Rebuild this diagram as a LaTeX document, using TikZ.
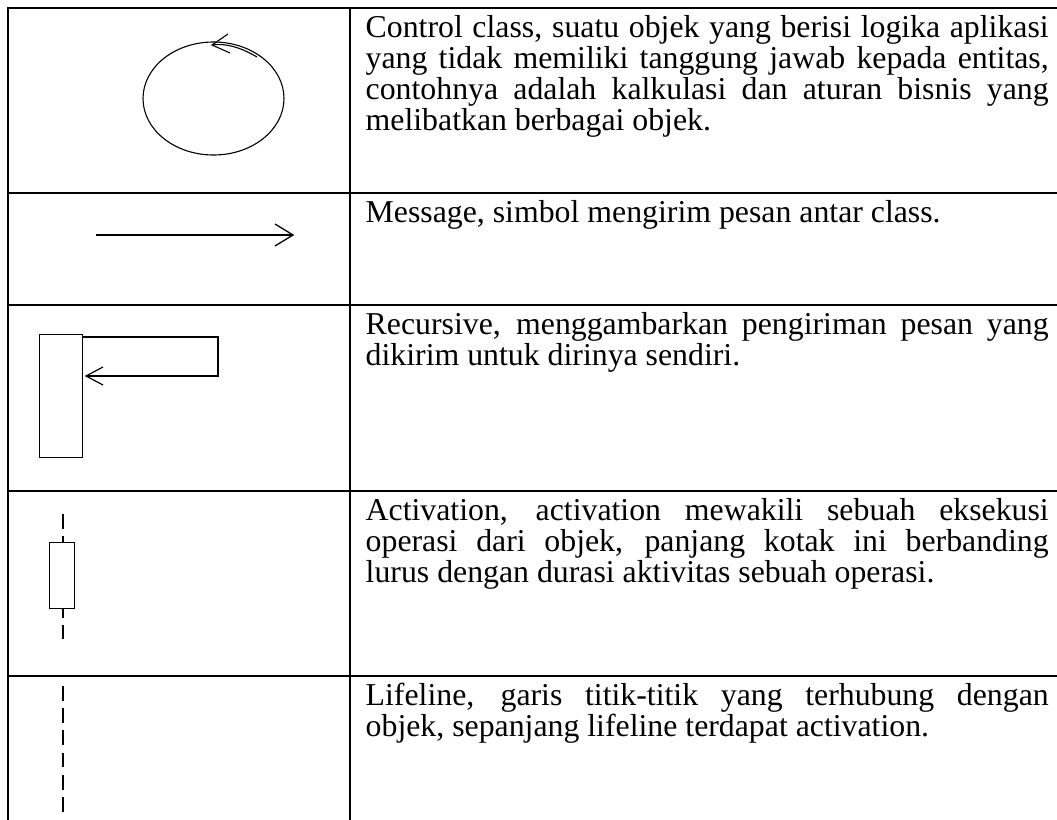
\documentclass[tikz,border=0pt]{standalone}
\usepackage{fontspec}
\setmainfont{Liberation Serif}
\usetikzlibrary{shapes.geometric}
\begin{document}
\begin{tikzpicture}[x=1pt,y=-1pt,
  grid/.style={line width=1.6pt},
  sym/.style={line width=1.2pt},
  thinsym/.style={line width=1.1pt},
  dashline/.style={line width=1.6pt, dash pattern=on 14.7pt off 7.5pt},
  txt/.style={anchor=base west, inner sep=0pt, font=\fontsize{31.8}{31}\selectfont}]
\useasboundingbox (0,0) rectangle (1057,819);
% table grid
\draw[grid] (1062,8) -- (8,8) -- (8,824);
\draw[grid] (350,8) -- (350,824);
\foreach \yy in {193,305,491,676} \draw[grid] (8,\yy) -- (1062,\yy);

% control class
\node[draw, thinsym, ellipse, minimum width=141pt, minimum height=113pt, inner sep=0pt] (ctrl) at (213.5,98.5) {};
\coordinate (ctip) at (212,45);
\draw[thinsym] (257,57) .. controls (240,47) and (225,43) .. (ctip);
\draw[thinsym] (228,34) -- (ctip) -- (230,53);

% message
\coordinate (m1) at (96,235);
\coordinate (m2) at (293,235);
\draw[line width=1.7pt] (m1) -- (m2);
\draw[line width=1.3pt] (275,224) -- (m2) -- (275,246);

% recursive
\node[draw, sym, minimum width=43pt, minimum height=123pt, inner sep=0pt, anchor=north west] (rbox) at (39,334) {};
\coordinate (rtip) at (86,376);
\draw[sym] (82,337) -- (218,337) -- (218,376) -- (rtip);
\draw[sym] (103,367) -- (rtip) -- (103,385);

% activation
\coordinate (a1) at (63,514);
\coordinate (a2) at (63,639);
\draw[dashline] (a1) -- (a2);
\node[draw, sym, fill=white, minimum width=25pt, minimum height=66pt, inner sep=0pt, anchor=north west] (abox) at (49,542) {};

% lifeline
\coordinate (l1) at (63,686);
\coordinate (l2) at (63,812);
\draw[dashline] (l1) -- (l2);

% texts
\node[txt] (t1a) at (365.5,37) {\makebox[683pt][s]{Control class, suatu objek yang berisi logika aplikasi}};
\node[txt] (t1b) at (365.5,68) {\makebox[683pt][s]{yang tidak memiliki tanggung jawab kepada entitas,}};
\node[txt] (t1c) at (365.5,99) {\makebox[683pt][s]{contohnya adalah kalkulasi dan aturan bisnis yang}};
\node[txt] (t1d) at (365.5,130) {melibatkan berbagai objek.};

\node[txt] (t2a) at (365.5,222) {Message, simbol mengirim pesan antar class.};

\node[txt] (t3a) at (365.5,334) {\makebox[683pt][s]{Recursive, menggambarkan pengiriman pesan yang}};
\node[txt] (t3b) at (365.5,365) {dikirim untuk dirinya sendiri.};

\node[txt] (t4a) at (365.5,520) {\makebox[683pt][s]{Activation, activation mewakili sebuah eksekusi}};
\node[txt] (t4b) at (365.5,551) {\makebox[683pt][s]{operasi dari objek, panjang kotak ini berbanding}};
\node[txt] (t4c) at (365.5,582) {lurus dengan durasi aktivitas sebuah operasi.};

\node[txt] (t5a) at (365.5,705) {\makebox[683pt][s]{Lifeline, garis titik-titik yang terhubung dengan}};
\node[txt] (t5b) at (365.5,736) {objek, sepanjang lifeline terdapat activation.};
\end{tikzpicture}
\end{document}
